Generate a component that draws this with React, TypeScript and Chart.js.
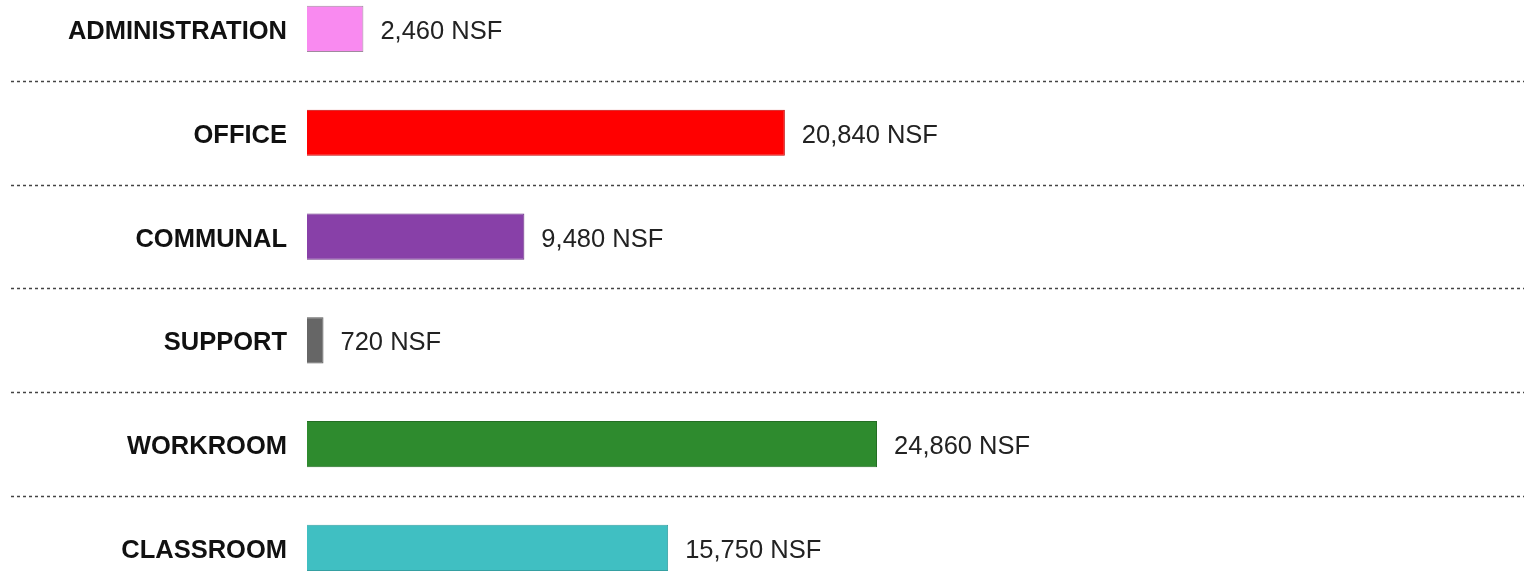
import React, { useEffect, useRef } from "react";
import { Chart, registerables } from "chart.js";

Chart.register(...registerables);

const categories = ["ADMINISTRATION", "OFFICE", "COMMUNAL", "SUPPORT", "WORKROOM", "CLASSROOM"];
const values = [2460, 20840, 9480, 720, 24860, 15750];
const colors = ["#F98AF0", "#FF0000", "#8840A8", "#666666", "#2E8B2E", "#40BFC2"];
const borderColors = ["#A08A9E", "#C40000", "#6A3083", "#555555", "#246E24", "#35A0A2"];
const unit = "NSF";

const FONT = "'Liberation Sans', Arial, Helvetica, sans-serif";

export default function App() {
  const ref = useRef<HTMLCanvasElement | null>(null);

  useEffect(() => {
    document.body.style.margin = "0";
    const canvas = ref.current;
    if (!canvas) return;

    const overlay = {
      id: "overlay",
      beforeDatasetsDraw(chart: any) {
        const ctx = chart.ctx;
        const y = chart.scales.y;
        ctx.save();
        ctx.strokeStyle = "#444444";
        ctx.lineWidth = 1.5;
        ctx.setLineDash([3, 3]);
        for (let i = 0; i < categories.length - 1; i++) {
          const py = Math.round(y.getPixelForValue(i + 0.5)) + 0.5;
          ctx.beginPath();
          ctx.moveTo(11, py);
          ctx.lineTo(chart.width, py);
          ctx.stroke();
        }
        ctx.restore();
      },
      afterDatasetsDraw(chart: any) {
        const ctx = chart.ctx;
        const y = chart.scales.y;
        const x = chart.scales.x;
        ctx.save();
        ctx.textBaseline = "middle";
        categories.forEach((c, i) => {
          const py = y.getPixelForValue(i) + 3;
          ctx.font = `bold 25.5px ${FONT}`;
          ctx.fillStyle = "#111111";
          ctx.textAlign = "right";
          ctx.fillText(c, x.getPixelForValue(0) - 20, py);
          ctx.font = `25.5px ${FONT}`;
          ctx.fillStyle = "#222222";
          ctx.textAlign = "left";
          ctx.fillText(values[i].toLocaleString("en-US") + " " + unit, x.getPixelForValue(values[i]) + 17, py);
        });
        ctx.restore();
      },
    };

    const chart = new Chart(canvas, {
      type: "bar",
      data: {
        datasets: [
          {
            data: values.map((v, i) => ({ x: v, y: i })),
            backgroundColor: colors,
            borderColor: borderColors,
            borderWidth: 1,
            categoryPercentage: 1,
            barPercentage: 0.445,
          },
        ],
      },
      options: {
        indexAxis: "y",
        animation: false,
        responsive: false,
        maintainAspectRatio: false,
        layout: { padding: 0 },
        plugins: { legend: { display: false }, tooltip: { enabled: false } },
        scales: {
          x: { type: "linear", display: false, offset: false, min: -13388, max: 53075 },
          y: {
            type: "linear",
            display: false,
            offset: false,
            reverse: true,
            min: -0.279,
            max: 5.222,
            afterBuildTicks: (scale: any) => {
              scale.ticks = categories.map((_, i) => ({ value: i }));
            },
          },
        },
      },
      plugins: [overlay],
    });
    return () => chart.destroy();
  }, []);

  return <canvas ref={ref} width={1524} height={571} style={{ display: "block" }} />;
}
